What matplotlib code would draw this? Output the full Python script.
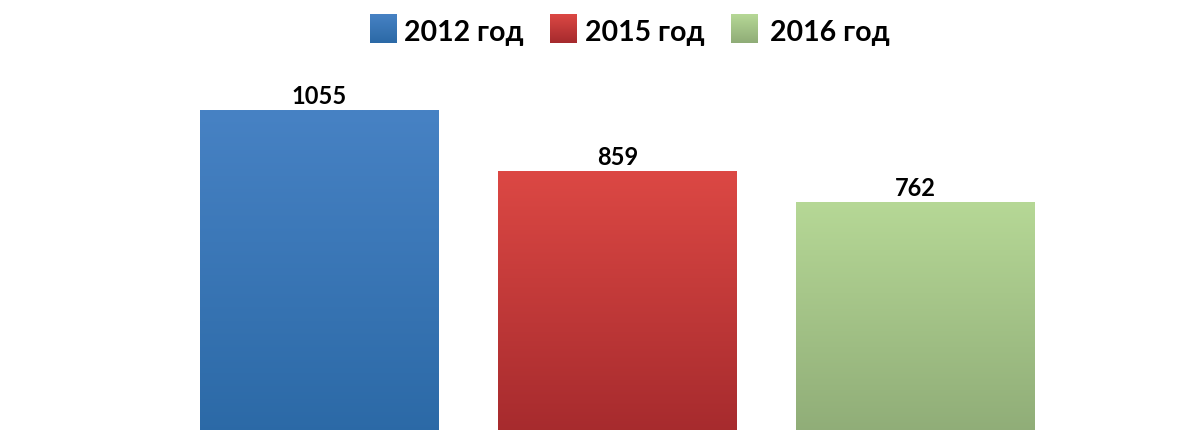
import numpy as np
import matplotlib
matplotlib.use("Agg")
import matplotlib.pyplot as plt
from matplotlib.colors import LinearSegmentedColormap

# Data
categories = ["2012 год", "2015 год", "2016 год"]
values = [1055, 859, 762]
top_colors = ["#4782c4", "#dc4844", "#b6d896"]
bottom_colors = ["#2b69a6", "#a52a2d", "#8fac77"]

W, H = 1198, 431
fig = plt.figure(figsize=(W / 100, H / 100), dpi=100)

# axes placement (baseline slightly below the picture)
px_per_unit = 0.3116
ymax = 1200
ax_h = ymax * px_per_unit
ax_bottom_px = 440
ax = fig.add_axes([0, (H - ax_bottom_px) / H, 1, ax_h / H])
ax.set_axis_off()

x = np.arange(len(values))
bars = ax.bar(x, values, width=0.8, facecolor="none", edgecolor="none")

grad = np.linspace(0, 1, 256).reshape(-1, 1)
for bar, ct, cb in zip(bars, top_colors, bottom_colors):
    cmap = LinearSegmentedColormap.from_list("g", [cb, ct])
    x0, y0 = bar.get_x(), bar.get_y()
    w, h = bar.get_width(), bar.get_height()
    im = ax.imshow(grad, extent=[x0, x0 + w, y0, y0 + h], origin="lower",
                   cmap=cmap, aspect="auto", zorder=1)
    im.set_clip_path(bar)

for xi, v in zip(x, values):
    ax.annotate(f"{v}", (xi, v), xytext=(0, 5), textcoords="offset points",
                ha="center", va="baseline", fontsize=17, fontweight="bold",
                family="Lato", color="black")

unit = 298.3
c0 = 319.0
ax.set_xlim(-c0 / unit, (W - c0) / unit)
ax.set_ylim(0, ymax)

# Legend (manual, gradient swatches)
sq_x = [370, 550, 731]
txt_x = [404, 585, 770]
for i, lab in enumerate(categories):
    sax = fig.add_axes([sq_x[i] / W, 1 - 44 / H, 27 / W, 29 / H])
    cmap = LinearSegmentedColormap.from_list("g", [bottom_colors[i], top_colors[i]])
    sax.imshow(grad, origin="lower", cmap=cmap, aspect="auto")
    sax.set_axis_off()
    fig.text(txt_x[i] / W, 1 - 41.3 / H, lab, ha="left", va="baseline",
             fontsize=20.5, fontweight="bold", family="Lato", color="black")

fig.savefig("out.png", dpi=100)
